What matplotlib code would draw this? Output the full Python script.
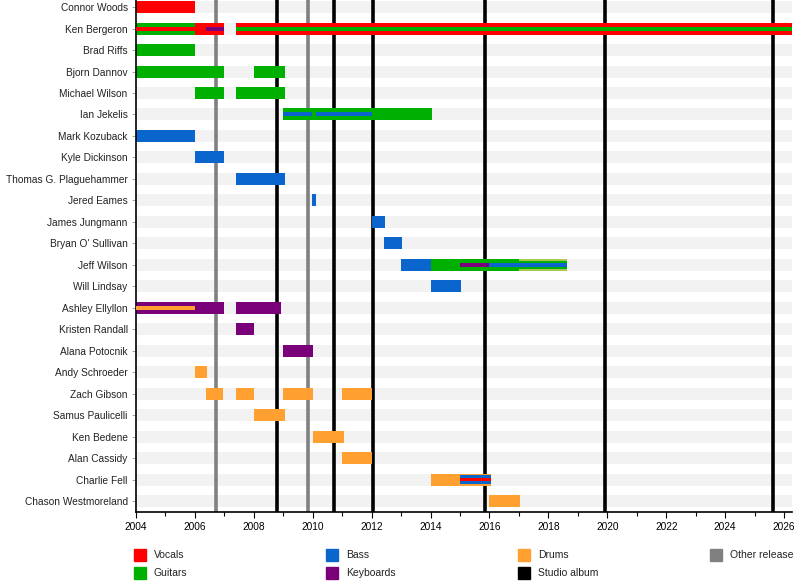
import matplotlib.pyplot as plt
import matplotlib.patches as mpatches

plt.rcParams.update({
    "font.family": ["Liberation Sans", "DejaVu Sans"],
    "font.size": 7.3,
})

# ── Colours ──────────────────────────────────────────────────────────────────
ROLE_COLORS = {
    "Vocals":    "#ff0000",
    "Guitars":   "#00b000",
    "Bass":      "#0a66cc",
    "Keyboards": "#7a007a",
    "Drums":     "#ffa030",
}
STRIPE = "#f2f2f2"
EDGE = "#a9c94e"

# ── Data ─────────────────────────────────────────────────────────────────────
members = [
    "Connor Woods", "Ken Bergeron", "Brad Riffs", "Bjorn Dannov",
    "Michael Wilson", "Ian Jekelis", "Mark Kozuback", "Kyle Dickinson",
    "Thomas G. Plaguehammer", "Jered Eames", "James Jungmann",
    "Bryan O' Sullivan", "Jeff Wilson", "Will Lindsay", "Ashley Ellyllon",
    "Kristen Randall", "Alana Potocnik", "Andy Schroeder", "Zach Gibson",
    "Samus Paulicelli", "Ken Bedene", "Alan Cassidy", "Charlie Fell",
    "Chason Westmoreland",
]

END = 2026.27  # "present"

# main spells
bar_member = [
    "Connor Woods",
    "Ken Bergeron", "Ken Bergeron", "Ken Bergeron",
    "Brad Riffs",
    "Bjorn Dannov", "Bjorn Dannov",
    "Michael Wilson", "Michael Wilson",
    "Ian Jekelis",
    "Mark Kozuback", "Kyle Dickinson", "Thomas G. Plaguehammer",
    "Jered Eames", "James Jungmann", "Bryan O' Sullivan",
    "Jeff Wilson", "Jeff Wilson",
    "Will Lindsay",
    "Ashley Ellyllon", "Ashley Ellyllon",
    "Kristen Randall", "Alana Potocnik", "Andy Schroeder",
    "Zach Gibson", "Zach Gibson", "Zach Gibson", "Zach Gibson",
    "Samus Paulicelli", "Ken Bedene", "Alan Cassidy", "Charlie Fell",
    "Chason Westmoreland",
]
bar_start = [
    2004.0,
    2004.0, 2006.0, 2007.4,
    2004.0,
    2004.0, 2008.0,
    2006.0, 2007.4,
    2009.0,
    2004.0, 2006.0, 2007.4,
    2009.98, 2012.0, 2012.42,
    2013.0, 2014.0,
    2014.02,
    2004.0, 2007.4,
    2007.4, 2009.0, 2006.0,
    2006.38, 2007.4, 2009.0, 2011.0,
    2008.0, 2010.0, 2011.0, 2014.0,
    2016.0,
]
bar_end = [
    2006.0,
    2006.0, 2007.0, END,
    2006.0,
    2007.0, 2009.05,
    2007.0, 2009.05,
    2014.04,
    2006.0, 2007.0, 2009.05,
    2010.1, 2012.45, 2013.03,
    2014.0, 2018.62,
    2015.03,
    2007.0, 2008.92,
    2008.0, 2010.0, 2006.42,
    2006.97, 2008.0, 2010.0, 2012.0,
    2009.05, 2011.05, 2012.0, 2016.05,
    2017.05,
]
bar_role = [
    "Vocals",
    "Guitars", "Vocals", "Vocals",
    "Guitars",
    "Guitars", "Guitars",
    "Guitars", "Guitars",
    "Guitars",
    "Bass", "Bass", "Bass",
    "Bass", "Bass", "Bass",
    "Bass", "Guitars",
    "Bass",
    "Keyboards", "Keyboards",
    "Keyboards", "Keyboards", "Drums",
    "Drums", "Drums", "Drums", "Drums",
    "Drums", "Drums", "Drums", "Drums",
    "Drums",
]

# secondary roles, drawn as thinner bars on top
line_member = [
    "Ken Bergeron", "Ken Bergeron", "Ken Bergeron",
    "Ian Jekelis", "Ian Jekelis",
    "Jeff Wilson", "Jeff Wilson",
    "Ashley Ellyllon",
    "Charlie Fell", "Charlie Fell",
]
line_start = [2004.0, 2006.38, 2007.4, 2009.0, 2010.1, 2015.0, 2016.0, 2004.0, 2015.0, 2015.0]
line_end = [2006.0, 2007.0, END, 2009.98, 2012.0, 2016.0, 2018.62, 2006.0, 2016.05, 2016.05]
line_role = [
    "Vocals", "Keyboards", "Guitars",
    "Bass", "Bass",
    "Keyboards", "Bass",
    "Drums",
    "Bass", "Vocals",
]
line_frac = [1/3, 1/3, 1/3, 1/3, 1/3, 1/3, 1/3, 1/3, 0.72, 0.3]

# thin light edges on the last part of Jeff Wilson's bar
edge_member = ["Jeff Wilson"]
edge_start = [2017.0]
edge_end = [2018.62]

studio_albums = [2008.79, 2010.72, 2012.05, 2015.85, 2019.93, 2025.63]
other_releases = [2006.72, 2009.84]

# ── Plot ─────────────────────────────────────────────────────────────────────
BAR_H = 0.56
W, H = 800, 586
fig = plt.figure(figsize=(W / 100, H / 100), dpi=100)
ax = fig.add_axes([136 / W, 1 - 512 / H, 656 / W, 512 / H])

rows = list(range(len(members)))
row_of = {m: i for i, m in enumerate(members)}

# background stripes
ax.barh(rows, END - 2004, left=2004, height=BAR_H, color=STRIPE, zorder=0)

for x in other_releases:
    ax.axvline(x, color="#808080", lw=2.6, zorder=1)
for x in studio_albums:
    ax.axvline(x, color="black", lw=2.6, zorder=1)

for m, s, e, r in zip(bar_member, bar_start, bar_end, bar_role):
    ax.barh(row_of[m], e - s, left=s, height=BAR_H, color=ROLE_COLORS[r], zorder=2)

for m, s, e in zip(edge_member, edge_start, edge_end):
    for off in (-1, 1):
        ax.barh(row_of[m] + off * (BAR_H / 2 - 0.04), e - s, left=s,
                height=0.08, color=EDGE, zorder=2.5)

for m, s, e, r, f in zip(line_member, line_start, line_end, line_role, line_frac):
    ax.barh(row_of[m], e - s, left=s, height=BAR_H * f, color=ROLE_COLORS[r], zorder=3)

ax.set_xlim(2004, END)
ax.set_ylim(len(members) - 0.49, -0.33)
ax.set_yticks(rows)
ax.set_yticklabels(members, color="#222222")
ax.set_xticks(range(2004, 2027, 2))
ax.set_xticks(range(2005, 2027, 2), minor=True)
ax.tick_params(axis="x", which="major", length=4, width=0.8, pad=3)
ax.tick_params(axis="x", which="minor", length=3, width=0.8)
ax.tick_params(axis="y", length=3, width=0.6, pad=3, color="#999999")
for side in ("top", "right"):
    ax.spines[side].set_visible(False)
for side in ("left", "bottom"):
    ax.spines[side].set_linewidth(1.2)

# ── Legend ───────────────────────────────────────────────────────────────────
legend_labels = ["Vocals", "Guitars", "Bass", "Keyboards", "Drums",
                 "Studio album", "Other release"]
legend_colors = [ROLE_COLORS["Vocals"], ROLE_COLORS["Guitars"],
                 ROLE_COLORS["Bass"], ROLE_COLORS["Keyboards"],
                 ROLE_COLORS["Drums"], "black", "#808080"]
for i, (lab, col) in enumerate(zip(legend_labels, legend_colors)):
    x0 = 134 + 192 * (i // 2)
    yc = 555 + 18 * (i % 2)
    fig.patches.append(mpatches.Rectangle(
        (x0 / W, 1 - (yc + 6) / H), 12 / W, 12 / H,
        transform=fig.transFigure, color=col))
    fig.text((x0 + 20) / W, 1 - yc / H, lab, va="center", ha="left",
             color="#222222", fontsize=7.5)

plt.savefig("out.png", dpi=100)
